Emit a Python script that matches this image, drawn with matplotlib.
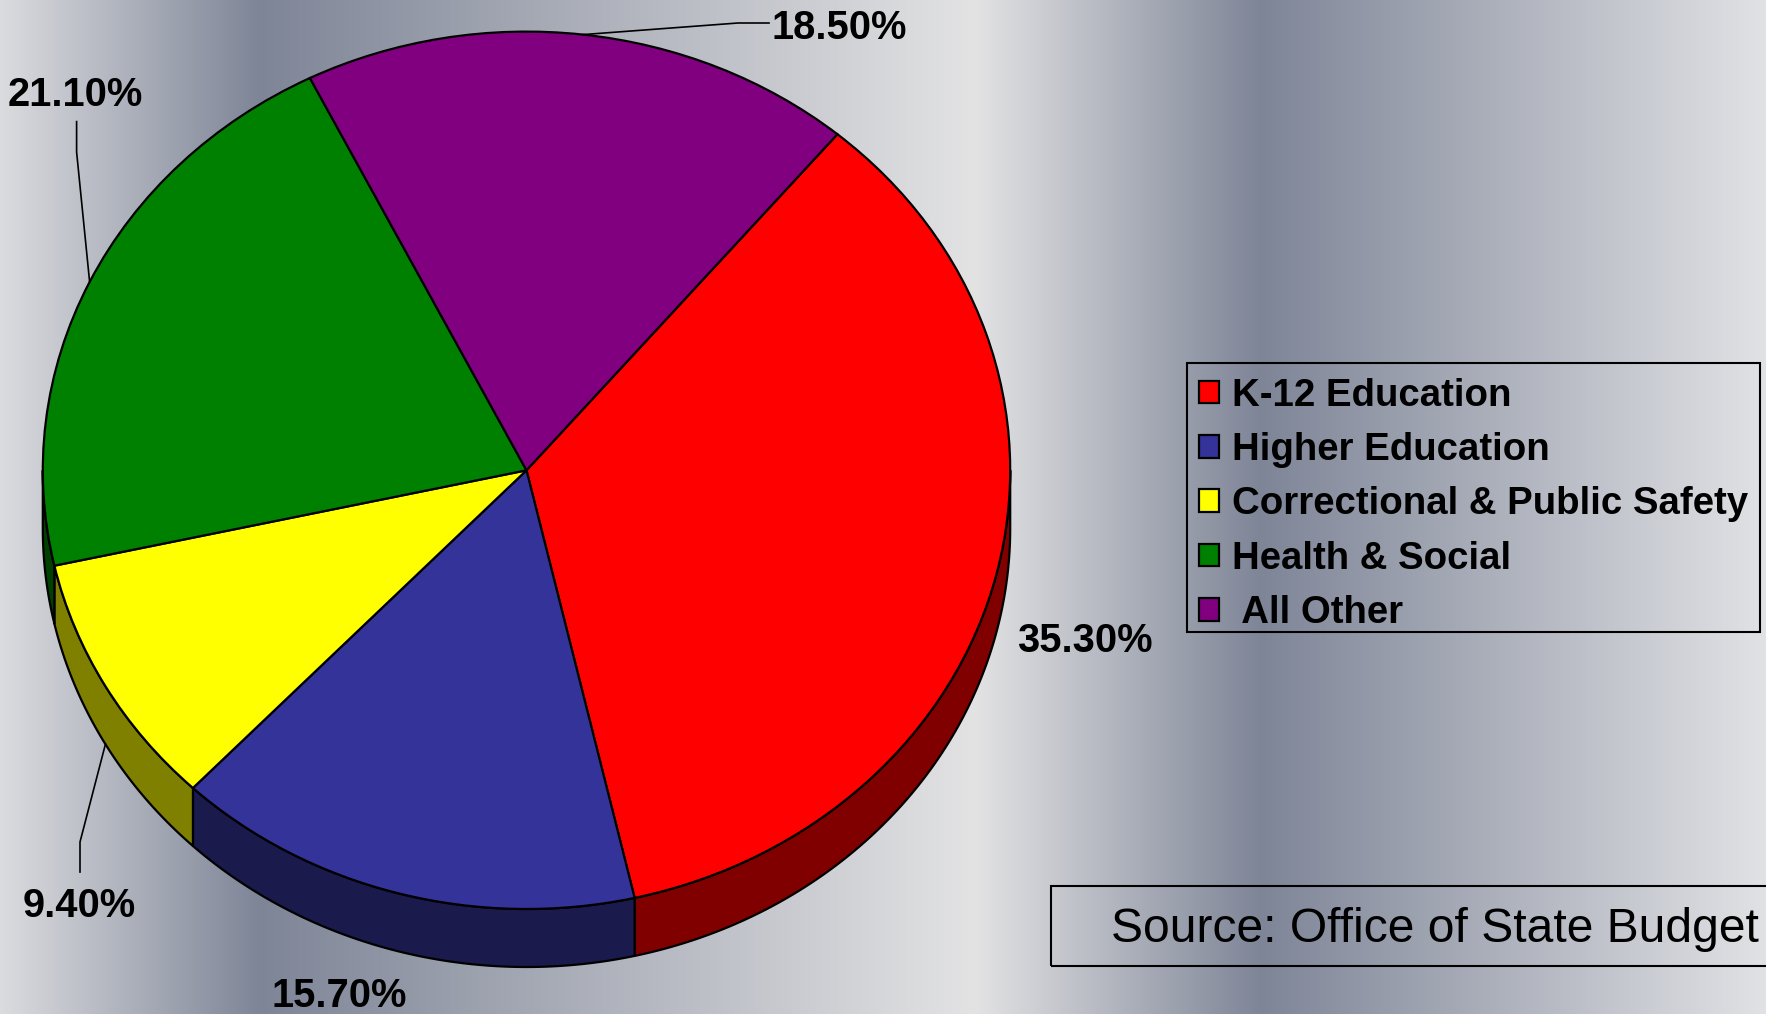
import numpy as np
import matplotlib
matplotlib.use("Agg")
import matplotlib.pyplot as plt
from matplotlib.patches import Polygon, Rectangle
from matplotlib.colors import to_rgb

# ---------------- data ----------------
categories = ["K-12 Education", "Higher Education", "Correctional & Public Safety",
              "Health & Social", " All Other"]
shares = [35.3, 15.7, 9.4, 21.1, 18.5]
pct_labels = ["35.30%", "15.70%", "9.40%", "21.10%", "18.50%"]
top_colors = ["#ff0000", "#333399", "#ffff00", "#008000", "#800080"]
side_colors = ["#800000", "#1a1a4d", "#808000", "#004000", "#400040"]
source_text = "Source: Office of State Budget"

# ---------------- layout ----------------
W, H = 1766, 1014
DPI = 100
cx, cy = 526.5, 470.3       # pie centre (px, from top)
rx, ry = 483.7, 438.7       # ellipse radii (px)
depth = 58 / ry             # side wall thickness in normalised units
START = 50.0

fig = plt.figure(figsize=(W / DPI, H / DPI), dpi=DPI)

# background gradient
bg = fig.add_axes([0, 0, 1, 1], zorder=0)
stops = [(0.0, "#dbdcdf"), (0.147, "#7e8597"), (0.552, "#e3e3e4"),
         (0.714, "#7e8597"), (1.0, "#e1e2e5")]
xs = np.linspace(0, 1, 1766)
cols = np.zeros((len(xs), 3))
for i in range(3):
    cols[:, i] = np.interp(xs, [s[0] for s in stops], [to_rgb(s[1])[i] for s in stops])
bg.imshow(cols[np.newaxis, :, :], aspect="auto", extent=[0, 1, 0, 1])
bg.set_axis_off()

ax = fig.add_axes([0, 0, 1, 1], zorder=1)
ax.patch.set_alpha(0)

FONT = "Liberation Sans"
lw = 1.6

# side walls (front half only)
fracs = np.array(shares) / np.sum(shares)
bounds = START - 360 * np.concatenate([[0], np.cumsum(fracs)])
for i in range(len(shares)):
    a_hi, a_lo = bounds[i], bounds[i + 1]
    for shift in (-360, 0, 360):
        lo = max(a_lo + shift, -180)
        hi = min(a_hi + shift, 0)
        if lo < hi:
            t = np.radians(np.linspace(lo, hi, 200))
            top = np.column_stack([np.cos(t), np.sin(t)])
            bot = np.column_stack([np.cos(t[::-1]), np.sin(t[::-1]) - depth])
            ax.add_patch(Polygon(np.vstack([top, bot]), closed=True,
                                 facecolor=side_colors[i], edgecolor="black",
                                 linewidth=lw, joinstyle="round", zorder=1))

wedges, _ = ax.pie(shares, colors=top_colors, startangle=START, counterclock=False,
                   radius=1, center=(0, 0),
                   wedgeprops=dict(edgecolor="black", linewidth=lw, zorder=2))
for w in wedges:
    w.set_zorder(2)

ax.set_aspect("auto")
ax.set_xlim((0 - cx) / rx, (W - cx) / rx)
ax.set_ylim((cy - H) / ry, (cy - 0) / ry)
ax.set_axis_off()


def px(x, y):
    """pixel (from top-left) -> data coords"""
    return (x - cx) / rx, (cy - y) / ry


# percentage labels
label_pos = [(1085, 641), (339, 996), (79.5, 906), (75, 95), (839.5, 28)]
for lab, (x, y) in zip(pct_labels, label_pos):
    dx, dy = px(x, y)
    ax.text(dx, dy, lab, ha="center", va="center", fontsize=28.7,
            fontweight="bold", family=FONT, color="black", zorder=5)

# leader lines starting from wedge mid-angles
mids = (bounds[:-1] + bounds[1:]) / 2
leaders = {
    4: [(738, 23), (769, 23)],
    3: [(76.6, 152), (76.6, 121.6)],
    2: [(80, 842), (80, 872)],
}
for i, pts in leaders.items():
    a = np.radians(mids[i])
    x0, y0 = np.cos(a), np.sin(a)
    if y0 < 0:
        y0 -= depth
    xs_ = [x0] + [px(*p)[0] for p in pts]
    ys_ = [y0] + [px(*p)[1] for p in pts]
    ax.plot(xs_, ys_, color="black", linewidth=1.2, zorder=4)

# legend (frame drawn separately)
leg = ax.legend(wedges, categories, loc="upper left",
                bbox_to_anchor=(1184 / W, 1 - 363 / H), bbox_transform=fig.transFigure,
                prop=dict(family=FONT, weight="bold", size=27.6),
                frameon=False, borderpad=0.38, borderaxespad=0,
                labelspacing=0.48, handlelength=0.53, handleheight=0.53,
                handletextpad=0.33)
fig.patches.append(Rectangle((1187 / W, 1 - 632 / H), (1760 - 1187) / W, (632 - 363) / H,
                             transform=fig.transFigure, fill=False,
                             edgecolor="black", linewidth=1.5, zorder=3))

# source box
fig.patches.append(Rectangle((1051 / W, 1 - 966 / H), (1800 - 1051) / W, 80 / H,
                             transform=fig.transFigure, fill=False,
                             edgecolor="black", linewidth=1.5, zorder=3))
fig.text(1111 / W, 1 - 930 / H, source_text, fontsize=34.6, family=FONT,
         ha="left", va="center", color="black", zorder=4)

fig.savefig("out.png", dpi=DPI)
